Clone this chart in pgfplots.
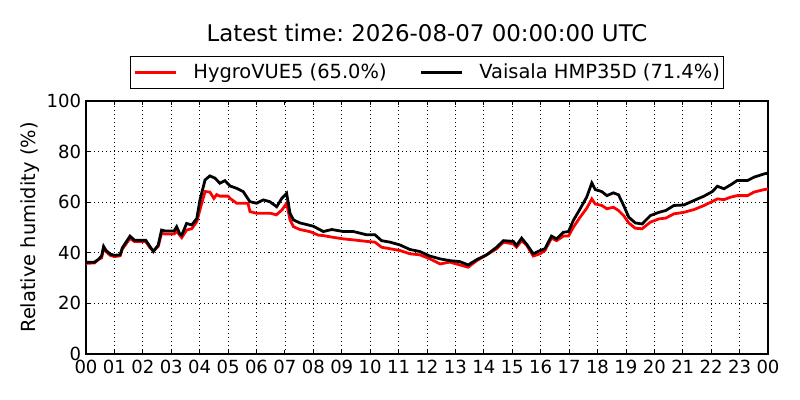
\documentclass[border=0pt]{standalone}
\usepackage{fontspec}
\setmainfont{DejaVu Sans}
\usepackage{pgfplots}
\pgfplotsset{compat=1.18}
\frenchspacing
\begin{document}
\begin{tikzpicture}
\useasboundingbox (-61.92pt,-33.12pt) rectangle (514.08pt,254.88pt);
\begin{axis}[
 at={(0,0)}, anchor=south west,
 scale only axis, width=491.04pt, height=182.16pt,
 xmin=0, xmax=24, ymin=0, ymax=100,
 xtick={0,1,...,24},
 xticklabels={00,01,02,03,04,05,06,07,08,09,10,11,12,13,14,15,16,17,18,19,20,21,22,23,00},
 ytick={0,20,40,60,80,100},
 tick pos=both, tick align=inside, major tick length=2.9pt,
 every tick/.style={black, line width=0.6pt},
 grid=major, major grid style={black, line width=0.5pt, dash pattern=on 0.72pt off 2.2pt},
 axis line style={black, line width=0.75pt},
 ticklabel style={font=\fontsize{13}{15}\selectfont},
 /pgf/number format/assume math mode=true,
 xticklabel style={yshift=-1.2pt},
 ylabel={Relative humidity (\%)},
 ylabel style={font=\fontsize{14}{16}\selectfont, at={(axis description cs:-0.0821,0.5)}, anchor=center},
 legend columns=2,
 legend style={at={(0.5,1)}, anchor=south, yshift=8.64pt, draw=black, line width=0.72pt, fill=white,
   font=\fontsize{14}{16}\selectfont, inner xsep=2.4pt, inner ysep=5.5pt, nodes={inner sep=0pt},
   /tikz/every odd column/.append style={column sep=11.2pt},
   /tikz/every even column/.append style={column sep=24pt}},
 legend image code/.code={\draw[#1] (0pt,0pt) -- (29.5pt,0pt);},
]
\addplot[red, line width=2pt] coordinates {
(0,35.8) (0.3,36) (0.45,37.5) (0.55,38) (0.62,42) (0.7,40.5) (0.85,39) (1.0,38.5) (1.2,38.8) (1.28,41.5)
(1.55,45.7) (1.7,44.5) (2.1,44.5) (2.25,42) (2.37,40.8) (2.54,42.5) (2.66,47.7) (2.8,47.4) (3.1,47.4) (3.19,48.5)
(3.37,46) (3.54,49) (3.72,49.5) (3.9,52.3) (4.01,57) (4.19,64.2) (4.36,64) (4.5,61.5) (4.6,63) (4.71,62.4)
(5.0,62.4) (5.07,61.5) (5.3,59.6) (5.7,59.6) (5.77,56.3) (6.0,55.6) (6.5,55.6) (6.7,55) (6.9,57) (7.06,59.6)
(7.18,53) (7.3,50.3) (7.53,49.2) (7.9,48.3) (8.17,47) (8.35,46.8) (8.65,46.2) (9.06,45.5) (9.41,45.1) (9.88,44.5)
(10.17,44.2) (10.4,42.2) (10.7,41.6) (11.05,40.9) (11.4,39.6) (11.75,39.2) (12.1,37.6) (12.46,35.6) (12.8,36.3) (13.16,35.2)
(13.45,34.3) (13.75,36.9) (14.1,39.2) (14.45,41.6) (14.69,44.2) (15.04,43.5) (15.15,42.2) (15.33,44.8) (15.5,43.1) (15.74,38.7)
(15.98,39.6) (16.15,40.9) (16.38,45.8) (16.56,44.8) (16.8,46.6) (16.98,46.6) (17.15,50.1) (17.39,54.1) (17.62,57.6) (17.8,61.3)
(17.92,59.3) (18.15,58.7) (18.33,57.4) (18.56,58) (18.74,56.7) (18.92,54.7) (19.1,51.8) (19.33,49.7) (19.57,49.5) (19.86,52.1)
(20.16,53.4) (20.4,53.7) (20.69,55.4) (21.04,56) (21.4,57.1) (21.75,58.7) (22.04,60.3) (22.22,61.3) (22.45,61) (22.69,62)
(22.92,62.6) (23.28,62.6) (23.51,64) (23.87,65) (24,65.2)
};
\addlegendentry{HygroVUE5 (65.0\%)}
\addplot[black, line width=2pt] coordinates {
(0,36.2) (0.3,36.3) (0.45,37.5) (0.55,38.8) (0.62,42.5) (0.7,41) (0.85,39.5) (1.0,39) (1.2,39.2) (1.28,42)
(1.55,46.6) (1.7,45) (2.1,45) (2.25,42.5) (2.37,40.5) (2.54,43) (2.66,49) (2.8,48.6) (3.1,48.6) (3.19,50.3)
(3.3,47.5) (3.37,47) (3.54,51.6) (3.72,51) (3.9,53.6) (4.01,60.9) (4.19,68.8) (4.36,70.4) (4.54,69.5) (4.71,67.5)
(4.89,68.5) (5.07,66.4) (5.3,65.5) (5.53,64.2) (5.77,60.2) (6.0,59.6) (6.24,60.9) (6.47,60.2) (6.71,58.2) (6.89,61.5)
(7.06,63.5) (7.18,55.6) (7.3,53) (7.53,51.8) (8.0,50.5) (8.35,48.4) (8.65,49.2) (9.06,48.4) (9.41,48.4) (9.88,47.1)
(10.17,47.1) (10.4,44.8) (10.7,44.2) (11.05,43.1) (11.4,41.3) (11.75,40.5) (12.1,38.7) (12.46,37.6) (12.8,36.9) (13.16,36.5)
(13.45,35.2) (13.75,37.3) (14.1,39.2) (14.45,42.2) (14.69,44.8) (15.04,44.5) (15.15,42.9) (15.33,45.8) (15.5,43.5) (15.74,39.6)
(15.98,40.9) (16.15,41.6) (16.38,46.6) (16.56,45.5) (16.8,48.1) (16.98,48.4) (17.15,52.8) (17.39,57.4) (17.62,62) (17.8,67.6)
(17.92,65) (18.15,64.2) (18.33,62.6) (18.56,63.7) (18.74,62.9) (18.92,58.7) (19.1,54.1) (19.33,51.8) (19.57,51.4) (19.86,54.7)
(20.16,56) (20.4,56.7) (20.69,58.7) (21.04,58.9) (21.4,60.7) (21.75,62.4) (22.04,64.2) (22.22,66.3) (22.45,65.3) (22.69,66.9)
(22.92,68.6) (23.28,68.6) (23.51,69.9) (23.87,71.2) (24,71.5)
};
\addlegendentry{Vaisala HMP35D (71.4\%)}
\end{axis}
\node[font=\fontsize{16.5}{19}\selectfont, anchor=base, inner sep=0pt] at (245.52pt,224.9pt) {Latest time: 2026-08-07 00:00:00 UTC};
\end{tikzpicture}
\end{document}
